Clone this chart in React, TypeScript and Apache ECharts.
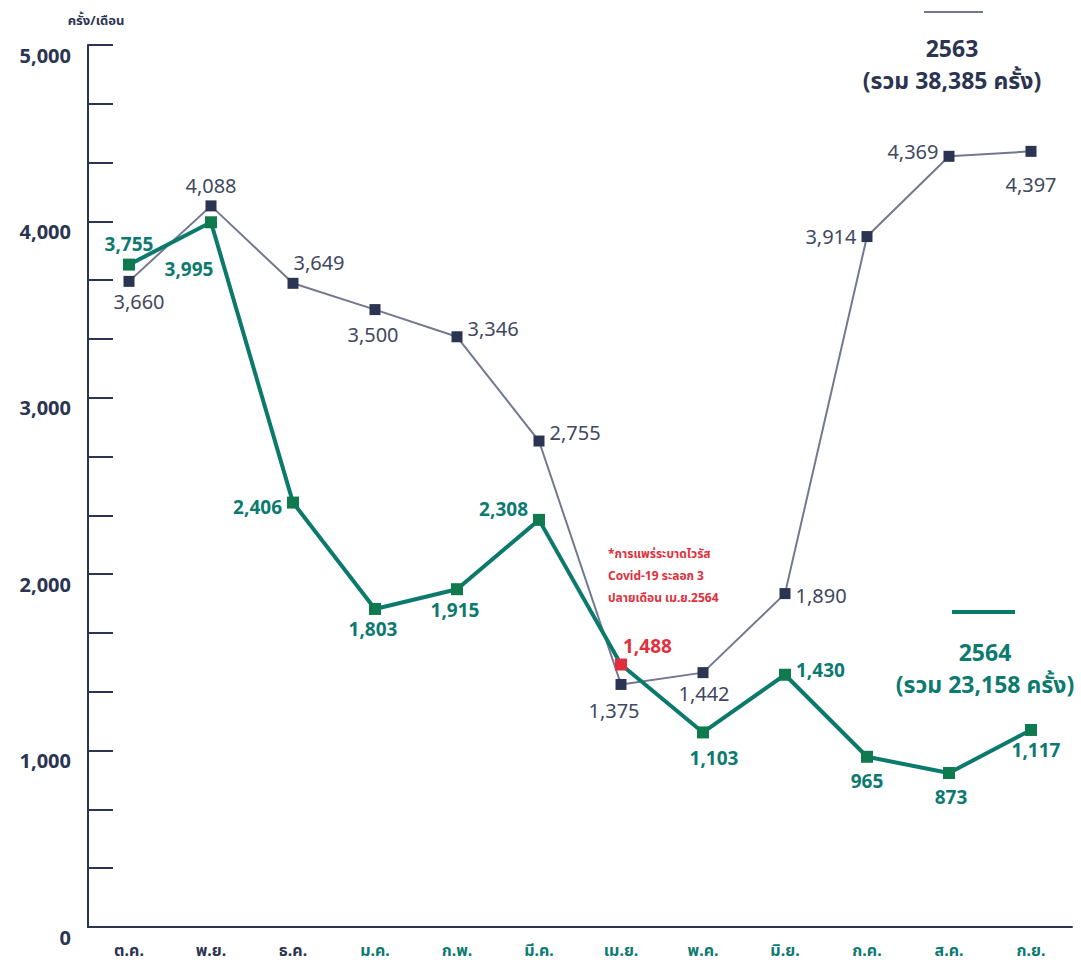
import React, { useEffect, useRef } from "react";
import * as echarts from "echarts";

const months = ["ต.ค.", "พ.ย.", "ธ.ค.", "ม.ค.", "ก.พ.", "มี.ค.", "เม.ย.", "พ.ค.", "มิ.ย.", "ก.ค.", "ส.ค.", "ก.ย."];
const monthColors = ["#2b3450", "#2b3450", "#2b3450", "#0c7a70", "#0c7a70", "#0c7a70", "#0c7a70", "#0c7a70", "#0c7a70", "#0c7a70", "#0c7a70", "#0c7a70"];
const values2563 = [3660, 4088, 3649, 3500, 3346, 2755, 1375, 1442, 1890, 3914, 4369, 4397];
const values2564 = [3755, 3995, 2406, 1803, 1915, 2308, 1488, 1103, 1430, 965, 873, 1117];
const highlightIndex2564 = 6;
const yTicks = [0, 1000, 2000, 3000, 4000, 5000];

// label placement (position, offset) per point
const place2563: [string, number[]][] = [
  ["bottom", [10, 0]], ["top", [0, 0]], ["top", [26, 0]], ["bottom", [-2, 4]],
  ["right", [0, -8]], ["right", [0, -9]], ["bottom", [-7, 6]], ["bottom", [1, 0]],
  ["right", [0, 2]], ["left", [0, 0]], ["left", [0, -5]], ["bottom", [0, 13]],
];
const place2564: [string, number[]][] = [
  ["top", [0, 0]], ["bottom", [-22, 26]], ["left", [0, 4]], ["bottom", [-2, 0]],
  ["bottom", [-2, 0]], ["left", [0, -11]], ["right", [-9, -19]], ["bottom", [11, 5]],
  ["right", [0, -5]], ["bottom", [0, 4]], ["bottom", [2, 3]], ["bottom", [5, 0]],
];

const NAVY = "#2b3450";
const NAVY_TEXT = "#414862";
const NAVY_LINE = "#737891";
const TEAL = "#0b7a6c";
const TEAL_TEXT = "#0c7a70";
const GREEN_MARK = "#0e7a4e";
const RED = "#e0303c";
const FONT = "'Noto Sans', 'Noto Sans Thai', Lato, sans-serif";

const fmt = (v: number) => v.toLocaleString("en-US");

export default function App() {
  const ref = useRef<HTMLDivElement>(null);
  useEffect(() => {
    if (!ref.current) return;
    const chart = echarts.init(ref.current, undefined, { renderer: "svg" });
    const data2563 = values2563.map((v, i) => ({
      value: v,
      label: { position: place2563[i][0], offset: place2563[i][1] },
    }));
    const data2564 = values2564.map((v, i) => {
      const hl = i === highlightIndex2564;
      return {
        value: v,
        itemStyle: hl ? { color: RED } : undefined,
        label: { position: place2564[i][0], offset: place2564[i][1], color: hl ? RED : TEAL_TEXT },
      };
    });
    chart.setOption({
      animation: false,
      textStyle: { fontFamily: FONT },
      grid: { left: 88, right: 9, top: 45, bottom: 41 },
      xAxis: {
        type: "category",
        boundaryGap: true,
        data: months.map((m, i) => ({ value: m, textStyle: { color: monthColors[i] } })),
        axisLine: { lineStyle: { color: NAVY, width: 2 } },
        axisTick: { inside: true, length: 22, lineStyle: { color: NAVY, width: 2 } },
        axisLabel: { fontSize: 16, fontWeight: "bold", margin: 15, fontFamily: FONT },
        splitLine: { show: false },
      },
      yAxis: {
        type: "value",
        min: 0,
        max: 5000,
        interval: 5000 / 15,
        axisLine: { show: true, lineStyle: { color: NAVY, width: 2 } },
        axisTick: { show: true, inside: true, length: 25, lineStyle: { color: NAVY, width: 2 } },
        splitLine: { show: false },
        axisLabel: {
          margin: 17,
          fontSize: 20,
          fontWeight: "bold",
          color: NAVY,
          verticalAlign: "top",
          fontFamily: FONT,
          formatter: (v: number) => {
            const r = Math.round(v);
            return yTicks.includes(r) ? fmt(r) : "";
          },
        },
      },
      series: [
        {
          name: "2563",
          type: "line",
          data: data2563,
          symbol: "rect",
          symbolSize: 11,
          lineStyle: { color: NAVY_LINE, width: 2 },
          itemStyle: { color: NAVY },
          label: {
            show: true,
            fontSize: 20,
            color: NAVY_TEXT,
            fontFamily: FONT,
            formatter: (p: any) => fmt(p.value),
          },
          z: 2,
        },
        {
          name: "2564",
          type: "line",
          data: data2564,
          symbol: "rect",
          symbolSize: 12,
          lineStyle: { color: TEAL, width: 4 },
          itemStyle: { color: GREEN_MARK },
          label: {
            show: true,
            fontSize: 19,
            fontWeight: "bold",
            color: TEAL_TEXT,
            fontFamily: FONT,
            formatter: (p: any) => fmt(p.value),
          },
          z: 3,
        },
      ],
      graphic: [
        {
          type: "text",
          x: 96,
          y: 20,
          style: {
            text: "ครั้ง/เดือน",
            font: `bold 13px ${FONT}`,
            fill: NAVY,
            align: "center",
            verticalAlign: "middle",
          },
        },
        {
          type: "text",
          x: 608,
          y: 542,
          style: {
            text: "*การแพร่ระบาดไวรัส\nCovid-19 ระลอก 3\nปลายเดือน เม.ย.2564",
            font: `bold 12px ${FONT}`,
            lineHeight: 22,
            fill: RED,
            align: "left",
            verticalAlign: "top",
          },
        },
        {
          type: "line",
          shape: { x1: 924, y1: 12, x2: 983, y2: 12 },
          style: { stroke: NAVY_LINE, lineWidth: 2 },
        },
        {
          type: "text",
          x: 952,
          y: 32,
          style: {
            text: "2563\n(รวม 38,385 ครั้ง)",
            font: `bold 23px ${FONT}`,
            lineHeight: 32,
            fill: NAVY,
            align: "center",
            verticalAlign: "top",
          },
        },
        {
          type: "line",
          shape: { x1: 952, y1: 612, x2: 1015, y2: 612 },
          style: { stroke: TEAL, lineWidth: 4 },
        },
        {
          type: "text",
          x: 985,
          y: 636,
          style: {
            text: "2564\n(รวม 23,158 ครั้ง)",
            font: `bold 23px ${FONT}`,
            lineHeight: 32,
            fill: TEAL_TEXT,
            align: "center",
            verticalAlign: "top",
          },
        },
      ],
    });
    return () => chart.dispose();
  }, []);
  return (
    <div
      ref={ref}
      style={{ position: "fixed", left: 0, top: 0, width: 1081, height: 968, background: "#fff" }}
    />
  );
}
